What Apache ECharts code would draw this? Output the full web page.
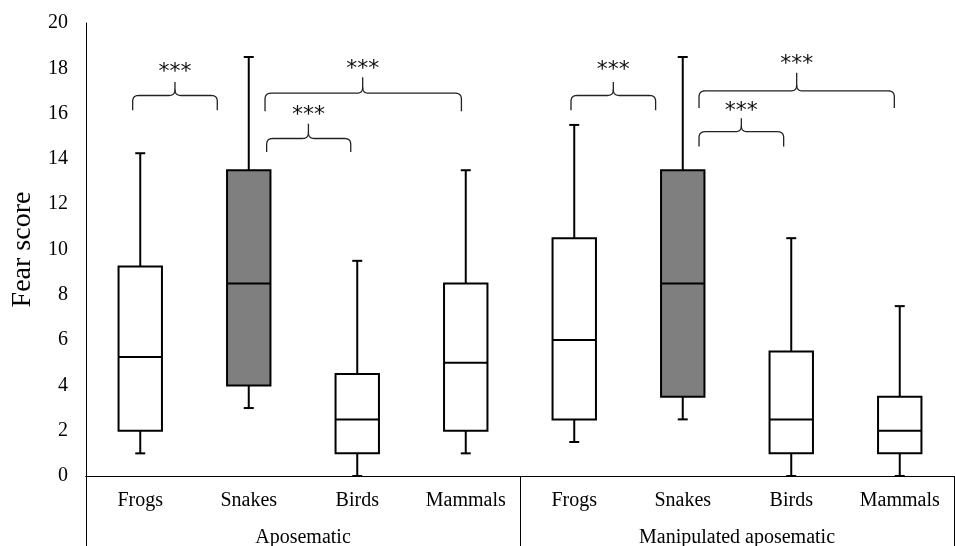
<!DOCTYPE html>
<html>
<head>
<meta charset="utf-8">
<script src="https://cdn.jsdelivr.net/npm/echarts@6/dist/echarts.min.js"></script>
<style>
html,body{margin:0;padding:0;background:#fff;}
#chart{width:955px;height:546px;}
</style>
</head>
<body>
<div id="chart"></div>
<script>
// ---- data ----
var categories = ['Frogs', 'Snakes', 'Birds', 'Mammals', 'Frogs', 'Snakes', 'Birds', 'Mammals'];
var groups = ['Aposematic', 'Manipulated aposematic'];
var mins    = [1,    3,    0,   1,   1.5,  2.5, 0,   0];
var q1s     = [2,    4,    1,   2,   2.5,  3.5, 1,   1];
var medians = [5.25, 8.5,  2.5, 5,   6,    8.5, 2.5, 2];
var q3s     = [9.25, 13.5, 4.5, 8.5, 10.5, 13.5, 5.5, 3.5];
var maxs    = [14.25, 18.5, 9.5, 13.5, 15.5, 18.5, 10.5, 7.5];
var isSnake = [0, 1, 0, 0, 0, 1, 0, 0];
var yTicks  = { min: 0, max: 20, interval: 2 };

// significance braces: position along category index (0..8), y in score units
var braceX0   = [0.43, 1.65, 1.665, 4.47, 5.65, 5.65];
var braceX1   = [1.21, 3.46, 2.44,  5.25, 7.45, 6.43];
var braceXc   = [0.82, 2.55, 2.05,  4.86, 6.55, 6.04];
var braceEnd  = [16.15, 16.1, 14.3, 16.15, 16.25, 14.55];
var braceBar  = [16.8, 16.9, 14.9, 16.8, 17.0, 15.2];
var braceTip  = [17.4, 17.6, 15.55, 17.4, 17.8, 15.8];
var braceStar = [17.95, 18.1, 16.05, 18.05, 18.3, 16.25];
var braceText = ['***', '***', '***', '***', '***', '***'];

var FONT = '"Liberation Serif", "Times New Roman", serif';
var STAR_FONT = '"DejaVu Sans", sans-serif';

var boxData = categories.map(function (c, i) {
  return [i, mins[i], q1s[i], medians[i], q3s[i], maxs[i], isSnake[i]];
});
var braceData = braceX0.map(function (x, i) {
  return [braceX0[i], braceX1[i], braceXc[i], braceEnd[i], braceBar[i], braceTip[i], braceStar[i], i];
});

function renderBox(params, api) {
  var idx = api.value(0);
  var cx = api.coord([idx, 0])[0];
  var bw = api.size([1, 0])[0] * 0.4;
  var hw = bw / 2;
  var cap = 5;
  var yMin = api.coord([idx, api.value(1)])[1];
  var yQ1 = api.coord([idx, api.value(2)])[1];
  var yMed = api.coord([idx, api.value(3)])[1];
  var yQ3 = api.coord([idx, api.value(4)])[1];
  var yMax = api.coord([idx, api.value(5)])[1];
  var fill = api.value(6) ? '#7f7f7f' : '#ffffff';
  var ls = { stroke: '#000', lineWidth: 2 };
  return {
    type: 'group',
    children: [
      { type: 'line', shape: { x1: cx, y1: yQ3, x2: cx, y2: yMax }, style: ls },
      { type: 'line', shape: { x1: cx - cap, y1: yMax, x2: cx + cap, y2: yMax }, style: ls },
      { type: 'line', shape: { x1: cx, y1: yQ1, x2: cx, y2: yMin }, style: ls },
      { type: 'line', shape: { x1: cx - cap, y1: yMin, x2: cx + cap, y2: yMin }, style: ls },
      { type: 'rect', shape: { x: cx - hw, y: yQ3, width: bw, height: yQ1 - yQ3 }, style: { fill: fill, stroke: '#000', lineWidth: 2 } },
      { type: 'line', shape: { x1: cx - hw, y1: yMed, x2: cx + hw, y2: yMed }, style: ls }
    ]
  };
}

function quad(pts, p0, c, p1) {
  for (var t = 0.1; t <= 1.0001; t += 0.1) {
    var a = (1 - t) * (1 - t), b = 2 * (1 - t) * t, d = t * t;
    pts.push([a * p0[0] + b * c[0] + d * p1[0], a * p0[1] + b * c[1] + d * p1[1]]);
  }
}

function renderBrace(params, api) {
  var x0 = api.coord([api.value(0), 0])[0];
  var x1 = api.coord([api.value(1), 0])[0];
  var xc = api.coord([api.value(2), 0])[0];
  var yEnd = api.coord([0, api.value(3)])[1];
  var yBar = api.coord([0, api.value(4)])[1];
  var yTip = api.coord([0, api.value(5)])[1];
  var yStar = api.coord([0, api.value(6)])[1];
  var r = 6;
  var left = [[x0, yEnd], [x0, yBar + r]];
  quad(left, [x0, yBar + r], [x0, yBar], [x0 + r, yBar]);
  left.push([xc - r, yBar]);
  quad(left, [xc - r, yBar], [xc, yBar], [xc, yBar - r]);
  left.push([xc, yTip]);
  var right = [[xc, yBar - r]];
  quad(right, [xc, yBar - r], [xc, yBar], [xc + r, yBar]);
  right.push([x1 - r, yBar]);
  quad(right, [x1 - r, yBar], [x1, yBar], [x1, yBar + r]);
  right.push([x1, yEnd]);
  var ls = { stroke: '#222', lineWidth: 1.3, fill: null };
  return {
    type: 'group',
    children: [
      { type: 'polyline', shape: { points: left }, style: ls },
      { type: 'polyline', shape: { points: right }, style: ls },
      { type: 'text', x: xc, y: yStar + 3,
        style: { text: braceText[api.value(7)], fill: '#111', fontFamily: STAR_FONT, fontSize: 22, align: 'center', verticalAlign: 'middle' } }
    ]
  };
}

var chart = echarts.init(document.getElementById('chart'), null, { renderer: 'canvas' });
chart.setOption({
  animation: false,
  backgroundColor: '#ffffff',
  grid: { left: 86, right: 1, top: 23, bottom: 70, containLabel: false, outerBoundsMode: 'none' },
  xAxis: [
    {
      type: 'category', data: categories, position: 'bottom',
      boundaryGap: true,
      axisLine: { show: true, lineStyle: { color: '#000', width: 1 } },
      axisTick: { show: false },
      axisLabel: { color: '#000', fontFamily: FONT, fontSize: 20, margin: 15, interval: 0 },
      splitLine: { show: false }
    },
    {
      type: 'category', data: groups, position: 'bottom',
      boundaryGap: true,
      axisLine: { show: true, lineStyle: { color: '#000', width: 1 } },
      axisTick: { show: true, length: 70, inside: false, lineStyle: { color: '#000', width: 1 } },
      axisLabel: { color: '#000', fontFamily: FONT, fontSize: 20, margin: 52, interval: 0 },
      splitLine: { show: false }
    },
    {
      type: 'value', min: 0, max: 8, show: false
    }
  ],
  yAxis: {
    type: 'value', min: yTicks.min, max: yTicks.max, interval: yTicks.interval,
    name: 'Fear score', nameLocation: 'middle', nameGap: 40, nameRotate: 90,
    nameTextStyle: { color: '#000', fontFamily: FONT, fontSize: 28 },
    axisLine: { show: true, lineStyle: { color: '#000', width: 1 } },
    axisTick: { show: false },
    axisLabel: { color: '#000', fontFamily: FONT, fontSize: 20, margin: 18 },
    splitLine: { show: false }
  },
  series: [
    {
      type: 'custom', xAxisIndex: 0, yAxisIndex: 0,
      renderItem: renderBox, data: boxData, clip: false,
      encode: { x: 0, y: [1, 2, 3, 4, 5] }
    },
    {
      type: 'custom', xAxisIndex: 2, yAxisIndex: 0,
      renderItem: renderBrace, data: braceData, clip: false,
      encode: { x: [0, 1], y: [3, 4, 5, 6] }
    }
  ]
});
</script>
</body>
</html>
